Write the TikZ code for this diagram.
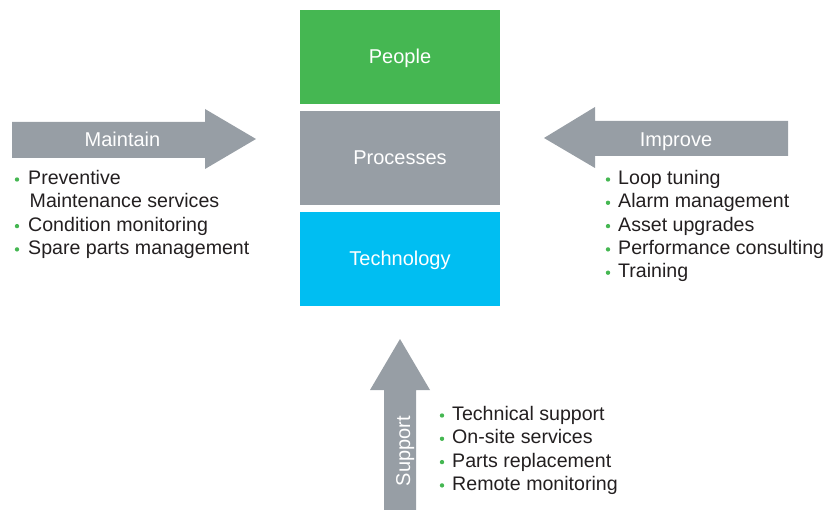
\documentclass[tikz,border=0pt]{standalone}
\usepackage{fontspec}
\setmainfont{Liberation Sans}
\usepackage{tikz}
\definecolor{pgreen}{RGB}{69,183,82}
\definecolor{pgray}{RGB}{151,158,165}
\definecolor{pcyan}{RGB}{0,190,242}
\definecolor{ptext}{RGB}{35,31,32}
\tikzstyle{block}=[
        minimum width=200pt,
        minimum height=94pt,
        inner sep=0pt,
        text=white,
        text height=13pt,
        text depth=0pt,
        font=\fontsize{20}{22}\selectfont
]
\tikzstyle{bigarrow}=[
        fill=pgray
]
\tikzstyle{alabel}=[
        anchor=base,
        inner sep=0pt,
        text=white,
        font=\fontsize{20}{22}\selectfont
]
\tikzstyle{item}=[
        anchor=base west,
        inner sep=0pt,
        text=ptext,
        font=\fontsize{19.6}{22}\selectfont
]
\tikzstyle{dot}=[
        fill=pgreen
]

\begin{document}
\begin{tikzpicture}[x=1pt,y=-1pt]
                        \useasboundingbox (0,0) rectangle (832,510);

                        \node[block, fill=pgreen] (people) at (400,57) {People};
                        \node[block, fill=pgray] (processes) at (400,158) {Processes};
                        \node[block, fill=pcyan] (technology) at (400,259) {Technology};

                        \fill[bigarrow] (12,122) -- (205,122) -- (205,109) -- (256,139) -- (205,169) -- (205,158) -- (12,158) -- cycle;
                        \fill[bigarrow] (788,121) -- (595,121) -- (595,107) -- (544,138) -- (595,168) -- (595,156) -- (788,156) -- cycle;
                        \fill[bigarrow] (384,510) -- (384,390) -- (370,390) -- (400,339) -- (430,390) -- (416,390) -- (416,510) -- cycle;

                        \node[alabel] (maintain) at (122.5,146.5) {Maintain};
                        \node[alabel] (improve) at (676,146.5) {Improve};
                        \node[alabel, rotate=90] (support) at (410,451) {Support};

                        \node[item] (mnt1) at (28,184.5) {Preventive};
                        \node[item] (mnt2) at (29.5,207.8) {Maintenance services};
                        \node[item] (mnt3) at (28,231.1) {Condition monitoring};
                        \node[item] (mnt4) at (28,254.4) {Spare parts management};
                        \fill[dot] (17,179.5) circle (2.2);
                        \fill[dot] (17,226.1) circle (2.2);
                        \fill[dot] (17,249.4) circle (2.2);

                        \foreach \txt [count=\i] in {Technical support, On-site services, Parts replacement, Remote monitoring} {
                            \node[item] (sup\i) at (452,397.2+23.3*\i) {\txt};
                            \fill[dot] (442,392.2+23.3*\i) circle (2.2);
                        }

                        \foreach \txt [count=\i] in {Loop tuning, Alarm management, Asset upgrades, Performance consulting, Training} {
                            \node[item] (imp\i) at (618,161.2+23.3*\i) {\txt};
                            \fill[dot] (608,156.2+23.3*\i) circle (2.2);
                        }

                    \end{tikzpicture}
\end{document}
